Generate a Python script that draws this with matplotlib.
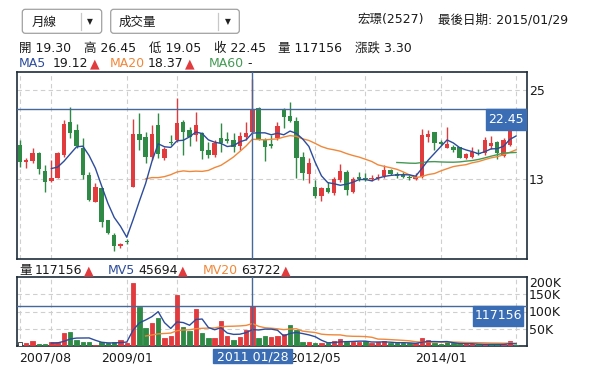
import numpy as np
import pandas as pd
import matplotlib
matplotlib.use('Agg')
import matplotlib.pyplot as plt
from matplotlib.patches import Rectangle, FancyBboxPatch
from matplotlib.transforms import Affine2D

plt.rcParams['font.family'] = ['DejaVu Sans', 'Noto Sans CJK TC']

W, H = 595, 379

# monthly candles (one entry per bar, left to right)
opens = [17.58, 15.34, 15.47, 16.50, 14.08, 12.78, 13.18, 16.23, 20.73, 19.60,
         17.13, 13.54, 9.95, 11.74, 7.47, 5.45, 4.02, 4.69, 11.97, 19.02,
         18.60, 16.00, 20.28, 15.88, 17.99, 18.26, 20.64, 19.60, 18.93, 19.15,
         16.91, 16.23, 18.57, 18.35, 18.26, 17.45, 18.62, 19.30, 22.52, 18.26,
         17.67, 18.48, 22.30, 21.54, 20.86, 16.01, 13.63, 11.88, 10.75, 11.74,
         11.07, 12.87, 13.99, 11.29, 13.31, 13.20, 13.00, 13.10, 13.40, 14.20,
         13.70, 13.50, 13.30, 13.00, 13.31, 18.70, 19.29, 18.00, 17.13, 17.36,
         17.36, 15.88, 16.00, 16.55, 16.46, 17.49, 18.03, 16.14, 17.58, 21.00]
highs = [18.26, 15.79, 17.13, 16.68, 14.89, 15.56, 16.68, 20.95, 22.75, 20.37,
         18.48, 13.99, 12.42, 11.83, 7.47, 5.68, 4.33, 4.91, 21.09, 21.85,
         19.38, 20.28, 21.85, 17.36, 18.93, 23.87, 20.95, 20.05, 22.07, 19.38,
         18.03, 18.26, 20.59, 19.38, 19.15, 19.38, 20.73, 26.45, 22.75, 18.48,
         18.93, 20.73, 22.61, 23.42, 21.40, 16.68, 15.79, 12.87, 11.97, 12.64,
         13.31, 14.98, 14.21, 13.31, 13.99, 13.80, 13.50, 13.70, 14.90, 14.40,
         13.90, 14.00, 13.60, 13.80, 19.74, 19.60, 19.38, 18.20, 20.05, 17.60,
         17.36, 16.55, 17.36, 17.04, 18.70, 18.84, 18.12, 18.57, 21.00, 21.60]
lows = [14.66, 14.53, 15.11, 13.63, 11.29, 12.64, 13.09, 16.00, 18.48, 17.13,
        13.00, 10.03, 9.86, 6.58, 5.54, 3.30, 3.75, 4.20, 11.97, 16.91,
        15.20, 15.50, 15.79, 15.60, 17.58, 18.03, 16.23, 17.49, 18.12, 15.70,
        15.79, 16.01, 16.68, 17.81, 16.68, 16.91, 18.26, 19.05, 18.26, 15.43,
        17.22, 18.26, 19.83, 20.64, 13.09, 12.87, 12.42, 10.48, 10.03, 11.07,
        10.84, 12.64, 10.84, 11.07, 12.73, 12.70, 12.70, 12.90, 13.20, 13.50,
        13.20, 13.10, 12.80, 12.90, 13.18, 17.94, 16.90, 17.60, 17.13, 16.70,
        15.79, 15.70, 15.88, 16.23, 16.23, 17.04, 15.70, 16.00, 17.40, 20.40]
closes = [15.34, 15.52, 16.46, 14.35, 12.64, 13.09, 16.50, 20.41, 19.24, 17.45,
          13.54, 10.17, 11.88, 7.25, 5.77, 4.02, 4.24, 4.46, 19.02, 18.26,
          16.01, 19.06, 16.37, 17.04, 17.81, 20.50, 19.38, 18.70, 20.28, 16.77,
          16.23, 17.81, 17.90, 18.17, 17.36, 18.80, 19.15, 22.45, 18.35, 17.36,
          17.49, 20.19, 21.40, 20.86, 15.79, 13.76, 15.11, 10.75, 11.74, 11.20,
          13.00, 14.08, 11.52, 13.00, 13.05, 13.00, 13.20, 13.30, 14.20, 13.70,
          13.40, 13.30, 13.20, 13.30, 18.93, 19.02, 17.85, 17.78, 17.75, 16.90,
          15.88, 16.32, 16.60, 16.32, 18.26, 17.80, 16.46, 18.26, 20.90, 20.60]
volumes = [10600, 7700, 14500, 4800, 4800, 10600, 10600, 36700, 39600, 17400,
           11600, 11600, 2900, 10600, 8700, 10600, 17400, 9700, 182800, 114000,
           53000, 65800, 82200, 24200, 29000, 148000, 56000, 43500, 107000, 36700,
           24200, 24200, 72500, 30000, 17400, 27000, 46400, 117156, 24200, 30000,
           27000, 30000, 33800, 61000, 45000, 10600, 10600, 7700, 9700, 7700,
           14500, 20300, 10600, 12600, 12600, 14500, 7700, 10600, 14500, 7700,
           7700, 7700, 7700, 7700, 24000, 17400, 7700, 4800, 10600, 7700,
           4800, 4800, 4800, 4800, 4800, 4800, 4800, 4800, 14500, 2900]

x_labels = ['2007/08', '2009/01', '2012/05', '2014/01']
x_label_pos = [4, 17, 47, 67]
grid_pos = [0, 5, 17, 25, 47, 55, 67, 79]
cross_idx = 37
cross_date = '2011 01/28'

UP = '#e23b3e'
DOWN = '#2f8a46'
C_MA5 = '#2c4c9c'
C_MA20 = '#f0883a'
C_MA60 = '#449a55'
CROSS = '#45699a'
BOXC = '#3a6db3'
TXT = '#1a1a1a'
GRID = '#cfcfcf'
FRAME = '#1e2d3b'

idx = np.arange(len(closes))
s = pd.Series(closes)
ma5 = s.rolling(5).mean().values
ma20 = s.rolling(20).mean().values
ma60 = s.rolling(60).mean().values
ma5[:5] = np.nan
ma20[:20] = np.nan
ma60[:60] = np.nan
v = pd.Series(volumes, dtype=float)
mv5 = v.rolling(5).mean().values
mv20 = v.rolling(20).mean().values
mv5[:5] = np.nan
mv20[:20] = np.nan

fig = plt.figure(figsize=(W / 100, H / 100), dpi=100)
fig.patch.set_facecolor('white')
# pixel coords, origin at top left
pix = Affine2D().scale(1, -1).translate(0, H).scale(0.01) + fig.dpi_scale_trans

ax1 = fig.add_axes([17 / W, 1 - 259 / H, 510 / W, 187 / H])
ax2 = fig.add_axes([17 / W, 1 - 346 / H, 510 / W, 69 / H])

for ax in (ax1, ax2):
    ax.set_xlim(-0.48, 80.73)
    for sp in ax.spines.values():
        sp.set_color(FRAME)
        sp.set_linewidth(1.2)
    for g in grid_pos:
        ax.axvline(g, color=GRID, lw=0.8, ls=(0, (4, 3)), zorder=0)
    ax.yaxis.tick_right()
    ax.tick_params(length=0, labelsize=9, colors=TXT, pad=1.5)

# price panel
ax1.set_ylim(2.22, 27.42)
ax1.set_yticks([13, 25])
ax1.set_yticklabels(['13', '25'])
ax1.set_xticks([])
for yv in [13, 25]:
    ax1.axhline(yv, color=GRID, lw=0.8, ls=(0, (4, 3)), zorder=0)

for i in idx:
    o, hi, lo, c = opens[i], highs[i], lows[i], closes[i]
    col = UP if c >= o else DOWN
    ax1.vlines(i, lo, hi, color=col, lw=1.0, zorder=2)
    ax1.bar(i, max(abs(c - o), 0.12), bottom=min(o, c), width=0.7, color=col,
            zorder=3, linewidth=0)

ax1.plot(idx, ma20, color=C_MA20, lw=1.0, zorder=4)
ax1.plot(idx, ma60, color=C_MA60, lw=1.0, zorder=4)
ax1.plot(idx, ma5, color=C_MA5, lw=1.0, zorder=5)

ax1.axvline(cross_idx, color=CROSS, lw=1.0, zorder=6)
ax1.axhline(closes[cross_idx], color=CROSS, lw=1.0, zorder=6)

# volume panel
ax2.set_ylim(0, 200000)
ax2.set_yticks([50000, 100000, 150000, 200000])
ax2.set_yticklabels(['50K', '100K', '150K', '200K'])
ax2.get_yticklabels()[-1].set_verticalalignment('top')
for yv in [50000, 100000, 150000]:
    ax2.axhline(yv, color=GRID, lw=0.8, ls=(0, (4, 3)), zorder=0)

vcols = ['white'] + [UP if closes[i] >= closes[i - 1] else DOWN for i in idx[1:]]
vedge = ['#333333'] + vcols[1:]
ax2.bar(idx, volumes, width=0.7, color=vcols, edgecolor=vedge, linewidth=0.6, zorder=3)
ax2.plot(idx, mv20, color=C_MA20, lw=1.0, zorder=4)
ax2.plot(idx, mv5, color=C_MA5, lw=1.0, zorder=5)
ax2.axvline(cross_idx, color=CROSS, lw=1.0, zorder=6)
ax2.axhline(volumes[cross_idx], color=CROSS, lw=1.0, zorder=6)

ax2.set_xticks(x_label_pos)
ax2.set_xticklabels(x_labels)
ax2.tick_params(axis='x', pad=4)

# crosshair value boxes (anchored to the data point)
def to_pix(ax, x, y):
    dx, dy = ax.transData.transform((x, y))
    return dx, H - dy

_, py = to_pix(ax1, cross_idx, closes[cross_idx])
fig.patches.append(Rectangle((486, py), 40, 21, transform=pix, color=BOXC, zorder=8))
fig.text(506, py + 10.5, '%.2f' % closes[cross_idx], transform=pix, color='white',
         fontsize=9, ha='center', va='center', zorder=9)

_, vy = to_pix(ax2, cross_idx, volumes[cross_idx])
fig.patches.append(Rectangle((473, vy), 50, 20, transform=pix, color=BOXC, zorder=8))
fig.text(498, vy + 10, str(volumes[cross_idx]), transform=pix, color='white',
         fontsize=9, ha='center', va='center', zorder=9)

cx, _ = to_pix(ax2, cross_idx, 0)
fig.patches.append(Rectangle((cx - 39.5, 349), 79, 14, transform=pix, color=BOXC, zorder=8))
fig.text(cx, 360, cross_date, transform=pix, color='white', fontsize=9,
         ha='center', va='baseline', zorder=9)

# top controls
def txt(x, y, s, color=TXT, size=9, **kw):
    fig.text(x, y, s, transform=pix, color=color, fontsize=size, va='baseline', **kw)

for (x0, w, div, arrow, label, lx) in [(22.3, 79.4, 81, 89.5, '月線', 32),
                                       (110.7, 128.6, 218, 228, '成交量', 119)]:
    fig.patches.append(FancyBboxPatch((x0, 9.3), w, 24, boxstyle='round,pad=0,rounding_size=3',
                                      transform=pix, facecolor='white', edgecolor='#a0a0a0',
                                      linewidth=0.9))
    fig.lines.append(plt.Line2D([div, div], [13, 30], transform=pix, color='#c8c8c8', lw=0.9))
    fig.text(arrow, 21.5, '▼', transform=pix, fontsize=5.5, color='#222222',
             ha='center', va='center')
    txt(lx, 25.5, label)

txt(358, 23.3, '宏璟(2527)')
txt(438, 23.3, '最後日期: 2015/01/29')

for s_, x in [('開 19.30', 19), ('高 26.45', 84), ('低 19.05', 149),
              ('收 22.45', 214), ('量 117156', 278), ('漲跌 3.30', 355)]:
    txt(x, 51.7, s_)

for s_, x, c in [('MA5', 19, C_MA5), ('19.12', 53, TXT), ('▲', 90, UP),
                 ('MA20', 110, C_MA20), ('18.37', 148, TXT), ('▲', 185, UP),
                 ('MA60', 209, C_MA60), ('-', 247, TXT)]:
    txt(x, 67, s_, color=c)

for s_, x, c in [('量', 19, TXT), ('117156', 35, TXT), ('▲', 84, UP),
                 ('MV5', 108, C_MA5), ('45694', 138, TXT), ('▲', 178, UP),
                 ('MV20', 203, C_MA20), ('63722', 241, TXT), ('▲', 281, UP)]:
    txt(x, 274, s_, color=c)

fig.savefig('out.png', dpi=100)
